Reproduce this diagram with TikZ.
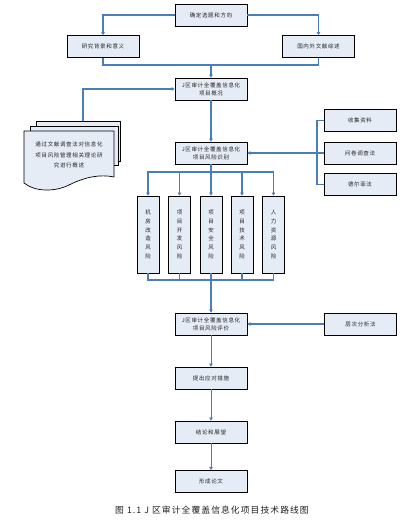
\documentclass[tikz,border=0pt]{standalone}
\usepackage{fontspec}
\usepackage{xcolor}
\usepackage{tikz}
\usetikzlibrary{arrows.meta,shadows}
\newfontfamily\cjk[LetterSpace=12]{Noto Sans CJK SC}
\definecolor{linkblue}{HTML}{4A7EBB}
\definecolor{boxfill}{HTML}{E6ECF6}
\definecolor{boxtext}{HTML}{222222}

\begin{document}
\begin{tikzpicture}[x=1pt,y=-1pt,
	box/.style={draw=black, line width=0.8pt, fill=boxfill, text=boxtext, minimum width=72pt, minimum height=22pt, inner sep=1pt, align=center, font=\cjk\fontsize{5.5}{8}\selectfont, drop shadow={shadow xshift=0.9pt, shadow yshift=-0.9pt, fill=black!75, opacity=1}},
	riskbox/.style={box, minimum width=22pt, minimum height=77pt, font=\cjk\fontsize{5.5}{8.8}\selectfont},
	line/.style={draw=linkblue, line width=1.5pt},
	link/.style={line, -{Triangle[length=3pt,width=3.5pt]}},
	thinlink/.style={link, line width=0.9pt},
	sheet/.style={draw=black, line width=0.7pt, fill=boxfill}]
	\useasboundingbox[fill=white] (0,0) rectangle (414,526);
	\node[box] (topic) at (211,15) {确定选题和方向};
	\node[box] (background) at (103,46.5) {研究背景和意义};
	\node[box] (review) at (318.5,46.5) {国内外文献综述};
	\node[box] (overview) at (211,89) {J区审计全覆盖信息化\\项目概况};
	\node[box] (identify) at (211,153) {J区审计全覆盖信息化\\项目风险识别};
	\node[box] (collect) at (360,120.5) {收集资料};
	\node[box] (survey) at (360,153) {问卷调查法};
	\node[box] (delphi) at (360,184.5) {德尔菲法};
	\foreach \i/\x/\t in {1/148/{机\\房\\改\\造\\风\\险}, 2/179.5/{项\\目\\开\\发\\风\\险}, 3/211/{项\\目\\安\\全\\风\\险}, 4/242/{项\\目\\技\\术\\风\\险}, 5/273.5/{人\\力\\资\\源\\风\\险}}
		\node[riskbox] (risk\i) at (\x,234.5) {\t};
	\node[box] (evaluate) at (211,324) {J区审计全覆盖信息化\\项目风险评价};
	\node[box] (ahp) at (360.5,324) {层次分析法};
	\node[box] (measures) at (211,378) {提出应对措施};
	\node[box] (conclusion) at (211,432) {结论和展望};
	\node[box] (thesis) at (211,481.5) {形成论文};
	\node[font=\cjk\fontsize{8.8}{10}\selectfont, text=boxtext] (caption) at (212,510) {图 1.1 J 区审计全覆盖信息化项目技术路线图};
	% stacked documents
	\draw[sheet] (36,121) rectangle (120,161);
	\draw[sheet] (30,126) rectangle (118,165);
	\draw[sheet] (24,131) -- (24,183) .. controls (35,192) and (55,192) .. (69,185) .. controls (85,177) and (100,174) .. (114,177) -- (114,131) -- cycle;
	\node[font=\cjk\fontsize{5.5}{10.5}\selectfont, text=boxtext, align=center] (docs) at (69,155) {通过文献调查法对信息化\\项目风险管理相关理论研\\究进行概述};
	\coordinate (docstop) at (83,121);
	\coordinate (split) at (211,65);
	\coordinate (fan) at (211,172);
	\coordinate (merge) at (211,280);
	\coordinate (bracket) at (317,153);
	\draw[link] (topic.west) -| (background.north);
	\draw[link] (topic.east) -| (review.north);
	\draw[line] (background.south) |- (split) -| (review.south);
	\draw[link] (split) -- (overview.north);
	\draw[link] (docstop) |- (overview.west);
	\draw[link] (overview.south) -- (identify.north);
	\foreach \i in {1,...,5}
		\draw[link] (identify.south) -- (fan) -| (risk\i.north);
	\foreach \i in {1,...,5}
		\draw[line] (risk\i.south) |- (merge);
	\draw[link] (merge) -- (evaluate.north);
	\draw[line] (collect.west) -| (bracket) |- (delphi.west);
	\draw[link] (survey.west) -- (identify.east);
	\draw[link] (ahp.west) -- (evaluate.east);
	\draw[thinlink] (evaluate.south) -- (measures.north);
	\draw[thinlink] (measures.south) -- (conclusion.north);
	\draw[thinlink] (conclusion.south) -- (thesis.north);
\end{tikzpicture}
\end{document}
